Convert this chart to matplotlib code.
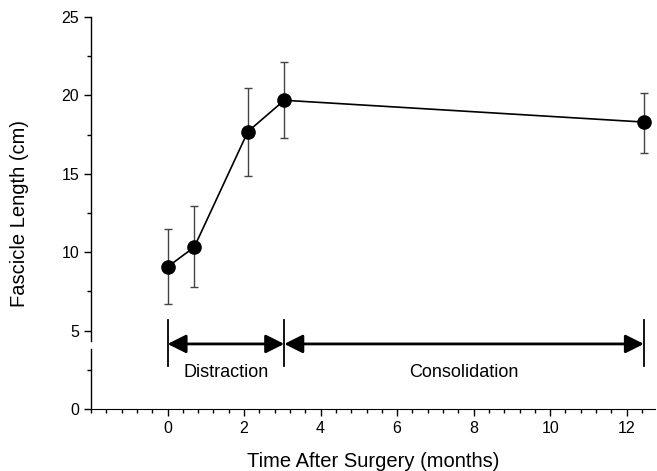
import matplotlib.pyplot as plt
import numpy as np
from matplotlib.ticker import MultipleLocator

plt.rcParams["font.family"] = ["Liberation Sans", "DejaVu Sans"]

# data
meses = [0.0, 0.7, 2.1, 3.05, 12.45]
longitud = [9.06, 10.33, 17.69, 19.69, 18.3]
err_sup = [11.48, 12.95, 20.47, 22.13, 20.15]
err_inf = [6.70, 7.78, 14.88, 17.30, 16.33]

fases = ["Distraction", "Consolidation"]
limites_fase = [0.0, 3.05, 12.45]

yerr = np.array([np.array(longitud) - np.array(err_inf),
                 np.array(err_sup) - np.array(longitud)])

fig = plt.figure(figsize=(6.57, 4.71), dpi=100)
ax = fig.add_axes([0.1385, 0.1316, 0.997 - 0.1385, 0.9639 - 0.1316])

ax.errorbar(meses, longitud, yerr=yerr, fmt="o-", color="black",
            markersize=9.5, linewidth=1.2, elinewidth=1.0, ecolor="#444444",
            capsize=3, capthick=1.0)

# fases: lineas verticales y flechas
for xv in limites_fase:
    ax.plot([xv, xv], [2.74, 5.68], color="black", linewidth=1.3)
for i, nombre in enumerate(fases):
    x0, x1 = limites_fase[i], limites_fase[i + 1]
    ax.annotate("", xy=(x1, 4.15), xytext=(x0, 4.15),
                arrowprops=dict(arrowstyle="<|-|>", color="black", lw=2,
                                mutation_scale=28, shrinkA=0, shrinkB=0))
    ax.text((x0 + x1) / 2, 2.35, nombre, ha="center", va="center", fontsize=13)

ax.set_xlim(-2, 12.74)
ax.set_ylim(0, 25)
ax.set_xticks([0, 2, 4, 6, 8, 10, 12])
ax.xaxis.set_minor_locator(MultipleLocator(0.4))
ax.set_yticks([0, 5, 10, 15, 20, 25])
ax.yaxis.set_minor_locator(MultipleLocator(2.5))
ax.tick_params(which="major", length=5, width=1, labelsize=11.5)
ax.tick_params(which="minor", length=3, width=1)

for s in ["top", "right", "left"]:
    ax.spines[s].set_visible(False)

# eje y partido
ax.plot([-2, -2], [0, 3.85], color="black", linewidth=1, clip_on=False)
ax.plot([-2, -2], [4.35, 25], color="black", linewidth=1, clip_on=False)

ax.set_xlabel("Time After Surgery (months)", fontsize=14.5, labelpad=12)
ax.set_ylabel("Fascicle Length (cm)", fontsize=14.5, labelpad=23)

fig.savefig("out.png", dpi=100)
